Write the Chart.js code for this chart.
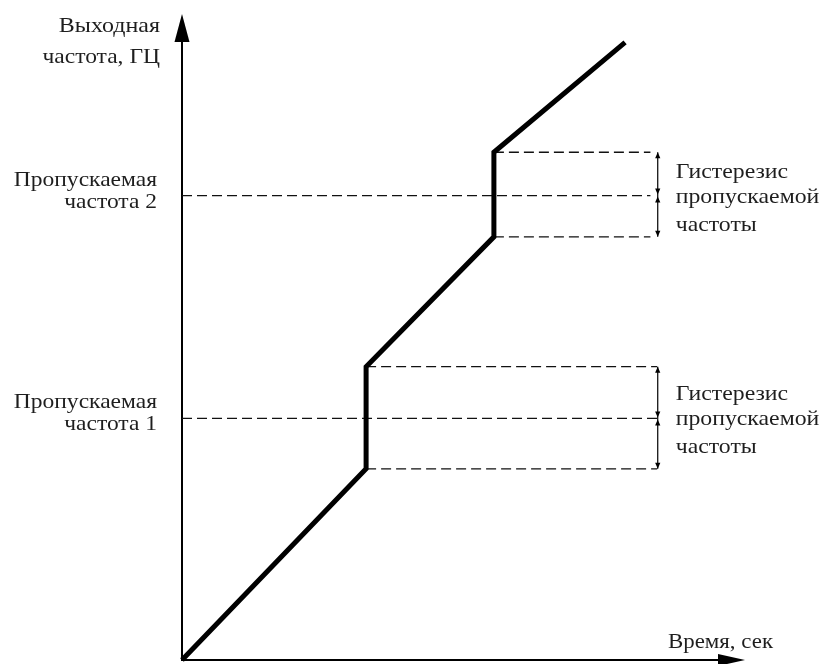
<!DOCTYPE html>
<html>
<head>
<meta charset="utf-8">
<script src="https://cdn.jsdelivr.net/npm/chart.js@4.4.1/dist/chart.umd.min.js"></script>
<style>
  html, body { margin:0; padding:0; background:#fff; overflow:hidden; }
  #wrap { width:824px; height:664px; position:relative; }
</style>
</head>
<body>
<div id="wrap"><canvas id="chart"></canvas></div>
<script>
// характеристика: время (усл. ед.) -> выходная частота (усл. ед.)
const timeVals = [0, 32.7, 32.7, 55.4, 55.4, 78.7];
const freqVals = [0, 29.6, 45.4, 65.5, 78.6, 95.6];

// пропускаемые частоты и границы гистерезиса
const skipFreqs = [37.4, 71.9];
const bandLow   = [29.6, 65.5];
const bandHigh  = [45.4, 78.6];
const bandStart = [32.7, 55.4];   // по времени, где начинается пунктир
const dashEnd   = [84.4, 83.2];
const arrowX    = 84.5;

const skipLabels = [['Пропускаемая', 'частота 1'], ['Пропускаемая', 'частота 2']];
const hystLabel  = ['Гистерезис', 'пропускаемой', 'частоты'];
const yTitle     = ['Выходная', 'частота, ГЦ'];
const xTitle     = 'Время, сек';

const mainLine = timeVals.map((t, i) => ({ x: t, y: freqVals[i] }));

const dashSets = [];
skipFreqs.forEach((f, i) => {
  const segs = [
    [[bandStart[i], bandHigh[i]], [dashEnd[i], bandHigh[i]]],
    [[0, f], [dashEnd[i], f]],
    [[bandStart[i], bandLow[i]], [dashEnd[i], bandLow[i]]]
  ];
  segs.forEach(s => dashSets.push({
    data: s.map(p => ({ x: p[0], y: p[1] })),
    borderColor: '#111', borderWidth: 1.3, borderDash: [10, 5],
    pointRadius: 0, fill: false, clip: false, order: 2
  }));
});

function arrowHead(ctx, x, y, dx, dy, len, half) {
  // остриё в (x,y), направление (dx,dy)
  ctx.beginPath();
  ctx.moveTo(x, y);
  ctx.lineTo(x - dx * len - dy * half, y - dy * len + dx * half);
  ctx.lineTo(x - dx * len + dy * half, y - dy * len - dx * half);
  ctx.closePath();
  ctx.fill();
}

// текст, чуть растянутый по горизонтали (как в оригинале)
function wideText(ctx, t, x, y, sx) {
  ctx.save();
  ctx.translate(x, y);
  ctx.scale(sx, 1);
  ctx.fillText(t, 0, 0);
  ctx.restore();
}

const decor = {
  id: 'decor',
  beforeDatasetsDraw(chart) {
    const { ctx, chartArea: a } = chart;
    ctx.save();
    ctx.strokeStyle = '#000'; ctx.fillStyle = '#000'; ctx.lineWidth = 2;
    // ось Y
    ctx.beginPath(); ctx.moveTo(a.left, a.bottom + 1); ctx.lineTo(a.left, a.top + 20); ctx.stroke();
    arrowHead(ctx, a.left, a.top, 0, -1, 28, 7.5);
    // ось X
    ctx.beginPath(); ctx.moveTo(a.left - 1, a.bottom); ctx.lineTo(a.right - 20, a.bottom); ctx.stroke();
    arrowHead(ctx, a.right, a.bottom, 1, 0, 27, 6);
    ctx.restore();
  },
  afterDatasetsDraw(chart) {
    const { ctx, chartArea: a, scales: { x, y } } = chart;
    ctx.save();
    // стрелки гистерезиса
    ctx.strokeStyle = '#000'; ctx.fillStyle = '#000'; ctx.lineWidth = 1.2;
    const ax = x.getPixelForValue(arrowX);
    skipFreqs.forEach((f, i) => {
      const yh = y.getPixelForValue(bandHigh[i]);
      const ym = y.getPixelForValue(f);
      const yl = y.getPixelForValue(bandLow[i]);
      ctx.beginPath(); ctx.moveTo(ax, yh); ctx.lineTo(ax, yl); ctx.stroke();
      arrowHead(ctx, ax, yh, 0, -1, 6, 2.6);
      arrowHead(ctx, ax, ym - 1, 0, 1, 6, 2.6);
      arrowHead(ctx, ax, ym + 1, 0, -1, 6, 2.6);
      arrowHead(ctx, ax, yl, 0, 1, 6, 2.6);
    });

    ctx.fillStyle = '#1e1e1e';
    ctx.textBaseline = 'alphabetic';
    // подписи оси Y
    ctx.font = '22px "Liberation Serif", "Times New Roman", serif';
    ctx.textAlign = 'right';
    wideText(ctx, yTitle[0], a.left - 22, a.top + 18, 1.09);
    wideText(ctx, yTitle[1], a.left - 22, a.top + 49, 1.07);
    // пропускаемые частоты
    ctx.font = '21px "Liberation Serif", "Times New Roman", serif';
    skipFreqs.forEach((f, i) => {
      const yp = y.getPixelForValue(f);
      wideText(ctx, skipLabels[i][0], a.left - 25, yp - 10, 1.12);
      wideText(ctx, skipLabels[i][1], a.left - 25, yp + 12, 1.12);
    });
    // гистерезис
    ctx.font = '22px "Liberation Serif", "Times New Roman", serif';
    ctx.textAlign = 'left';
    skipFreqs.forEach((f, i) => {
      const yp = y.getPixelForValue(f);
      const tx = ax + 18;
      wideText(ctx, hystLabel[0], tx, yp - 18, 1.08);
      wideText(ctx, hystLabel[1], tx, yp + 7, 1.08);
      wideText(ctx, hystLabel[2], tx, yp + 35, 1.08);
    });
    // подпись оси X
    wideText(ctx, xTitle, a.right - 77, a.bottom - 12, 1.04);
    ctx.restore();
  }
};

new Chart(document.getElementById('chart'), {
  type: 'line',
  data: {
    datasets: [
      {
        data: mainLine,
        borderColor: '#000', borderWidth: 5, borderJoinStyle: 'miter',
        pointRadius: 0, fill: false, clip: false, tension: 0, order: 1
      },
      ...dashSets
    ]
  },
  options: {
    responsive: true,
    maintainAspectRatio: false,
    animation: false,
    parsing: { xAxisKey: 'x', yAxisKey: 'y' },
    layout: { padding: { left: 182, right: 79, top: 14, bottom: 4 } },
    scales: {
      x: { type: 'linear', min: 0, max: 100, display: false },
      y: { type: 'linear', min: 0, max: 100, display: false }
    },
    plugins: { legend: { display: false }, tooltip: { enabled: false } }
  },
  plugins: [decor]
});
</script>
</body>
</html>
